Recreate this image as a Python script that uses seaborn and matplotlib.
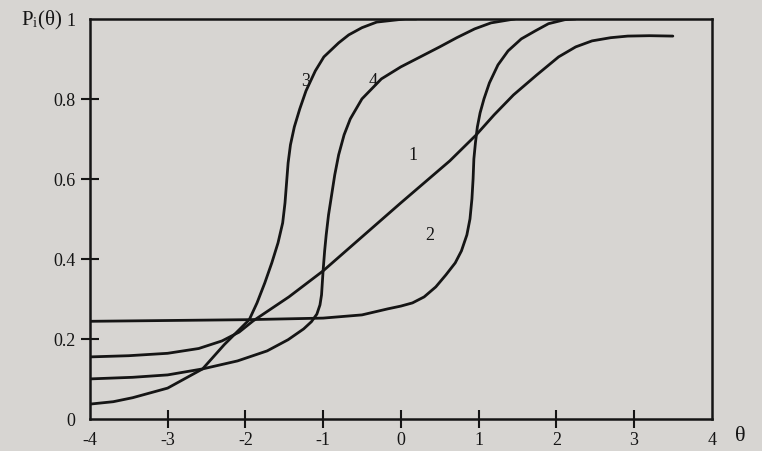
import pandas as pd
import numpy as np
import matplotlib
matplotlib.use("Agg")
import matplotlib.pyplot as plt
import seaborn as sns

# 곡선별 값 (그림에서 읽은 theta, P(theta))
theta_1 = [-4.0, -3.5, -3.0, -2.6, -2.3, -2.08, -1.9, -1.44, -1.0, -0.5, 0.0, 0.3, 0.63, 0.97,
           1.2, 1.45, 1.75, 2.03, 2.25, 2.46, 2.7, 2.92, 3.2, 3.5]
p_1 = [0.155, 0.158, 0.164, 0.176, 0.195, 0.217, 0.245, 0.305, 0.37, 0.455, 0.54, 0.59, 0.645, 0.71,
       0.76, 0.81, 0.86, 0.905, 0.93, 0.945, 0.953, 0.957, 0.958, 0.957]

theta_2 = [-4.0, -3.0, -2.0, -1.0, -0.5, -0.17, 0.0, 0.15, 0.3, 0.45, 0.58, 0.7, 0.78, 0.85, 0.89,
           0.915, 0.93, 0.94, 0.96, 0.985, 1.02, 1.07, 1.14, 1.25, 1.38, 1.55, 1.73, 1.9, 2.11, 2.25]
p_2 = [0.244, 0.246, 0.248, 0.252, 0.26, 0.275, 0.282, 0.29, 0.305, 0.33, 0.36, 0.39, 0.42, 0.46, 0.50,
       0.55, 0.60, 0.65, 0.69, 0.73, 0.765, 0.80, 0.84, 0.885, 0.92, 0.95, 0.97, 0.988, 0.998, 1.0]

theta_3 = [-4.0, -3.7, -3.45, -3.0, -2.55, -2.27, -1.95, -1.85, -1.75, -1.66, -1.58, -1.52, -1.49,
           -1.47, -1.45, -1.42, -1.37, -1.3, -1.22, -1.1, -0.99, -0.8, -0.67, -0.5, -0.31, 0.06, 0.2]
p_3 = [0.037, 0.043, 0.053, 0.077, 0.125, 0.186, 0.248, 0.29, 0.34, 0.39, 0.44, 0.49, 0.54,
       0.59, 0.64, 0.685, 0.73, 0.775, 0.82, 0.87, 0.905, 0.94, 0.96, 0.978, 0.992, 1.0, 1.0]

theta_4 = [-4.0, -3.45, -3.0, -2.55, -2.1, -1.72, -1.45, -1.25, -1.15, -1.08, -1.04, -1.02, -1.01,
           -1.0, -0.98, -0.96, -0.93, -0.89, -0.85, -0.8, -0.73, -0.65, -0.5, -0.25, 0.0, 0.25, 0.5,
           0.72, 0.95, 1.16, 1.47]
p_4 = [0.10, 0.104, 0.11, 0.125, 0.145, 0.17, 0.198, 0.225, 0.243, 0.262, 0.285, 0.31, 0.34,
       0.37, 0.42, 0.46, 0.51, 0.56, 0.61, 0.66, 0.71, 0.75, 0.80, 0.85, 0.88, 0.905, 0.93,
       0.953, 0.975, 0.99, 1.0]

# 곡선 번호 라벨 위치
label_names = ["1", "2", "3", "4"]
label_theta = [0.15, 0.37, -1.22, -0.36]
label_p = [0.66, 0.46, 0.847, 0.847]

x_ticks = [-4, -3, -2, -1, 0, 1, 2, 3, 4]
y_ticks = [0, 0.2, 0.4, 0.6, 0.8, 1]
y_tick_labels = ["0", "0.2", "0.4", "0.6", "0.8", "1"]

df = pd.concat([
    pd.DataFrame({"theta": theta_1, "p": p_1, "item": "1"}),
    pd.DataFrame({"theta": theta_2, "p": p_2, "item": "2"}),
    pd.DataFrame({"theta": theta_3, "p": p_3, "item": "3"}),
    pd.DataFrame({"theta": theta_4, "p": p_4, "item": "4"}),
])

sns.set_theme(style="white")
plt.rcParams["font.family"] = ["Liberation Serif", "DejaVu Serif"]
plt.rcParams["mathtext.fontset"] = "stix"

paper = "#d7d5d2"
ink = "#151515"
fig = plt.figure(figsize=(7.62, 4.52), dpi=100)
fig.patch.set_facecolor(paper)
ax = fig.add_axes([0.118, 0.071, 0.816, 0.885])
ax.set_facecolor(paper)

sns.lineplot(data=df, x="theta", y="p", hue="item", palette=[ink] * 4,
             estimator=None, sort=False, linewidth=2.0, legend=False, ax=ax)

for name, tx, ty in zip(label_names, label_theta, label_p):
    ax.text(tx, ty, name, fontsize=13, ha="center", va="center", color=ink)

ax.set_xlim(-4, 4)
ax.set_ylim(0, 1)
ax.set_xticks(x_ticks)
ax.set_xticklabels([str(t) for t in x_ticks])
ax.set_yticks(y_ticks)
ax.set_yticklabels(y_tick_labels)
ax.set_xlabel("")
ax.set_ylabel("")

for side in ["left", "right", "top", "bottom"]:
    ax.spines[side].set_visible(True)
    ax.spines[side].set_color(ink)
    ax.spines[side].set_linewidth(1.8)

ax.tick_params(axis="both", which="major", bottom=True, left=True, direction="inout",
               length=13, width=1.5, color=ink, labelsize=13, labelcolor=ink)
ax.tick_params(axis="x", pad=2)
ax.tick_params(axis="y", pad=4)

# 양 끝 눈금선은 숨김
for tk in [ax.xaxis.get_major_ticks()[0], ax.xaxis.get_major_ticks()[-1],
           ax.yaxis.get_major_ticks()[0], ax.yaxis.get_major_ticks()[-1]]:
    tk.tick1line.set_visible(False)

fig.text(0.028, 0.955, r"P$_\mathregular{i}$(θ)", fontsize=15, ha="left", va="center", color=ink)
fig.text(0.972, 0.035, "θ", fontsize=16, ha="center", va="center", color=ink)

fig.savefig("out.png", dpi=100, facecolor=paper)
